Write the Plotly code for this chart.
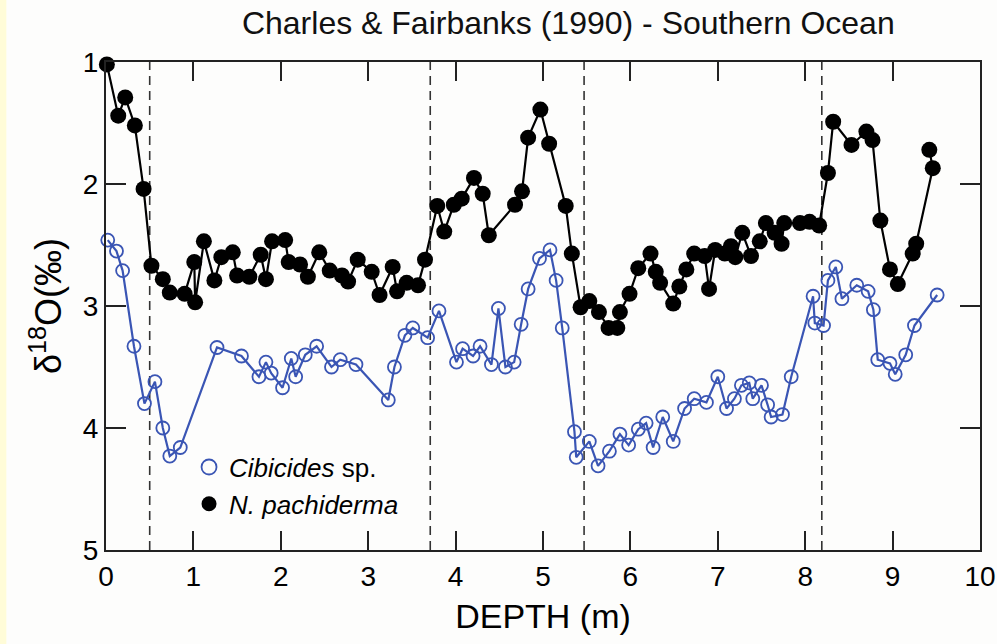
import plotly.graph_objects as go

# N. pachyderma (black, filled)
pach_depth = [0.01, 0.14, 0.22, 0.33, 0.43, 0.52, 0.65, 0.73, 0.90, 1.01, 1.02, 1.12, 1.24, 1.32,
              1.45, 1.50, 1.64, 1.77, 1.83, 1.90, 2.05, 2.09, 2.22, 2.31, 2.44, 2.56, 2.70, 2.77,
              2.88, 3.04, 3.13, 3.28, 3.33, 3.44, 3.57, 3.65, 3.79, 3.87, 3.98, 4.07, 4.21, 4.31,
              4.38, 4.68, 4.76, 4.83, 4.97, 5.07, 5.26, 5.33, 5.43, 5.53, 5.64, 5.75, 5.85, 5.88,
              5.99, 6.09, 6.23, 6.29, 6.34, 6.49, 6.56, 6.64, 6.73, 6.85, 6.90, 6.97, 7.08, 7.15,
              7.20, 7.28, 7.38, 7.48, 7.55, 7.65, 7.73, 7.76, 7.94, 8.05, 8.16, 8.26, 8.32, 8.53,
              8.70, 8.77, 8.86, 8.97, 9.06, 9.23, 9.27, 9.46, 9.42]
pach_d18o = [1.02, 1.44, 1.29, 1.52, 2.04, 2.67, 2.78, 2.89, 2.90, 2.64, 2.97, 2.47, 2.79, 2.60,
             2.56, 2.75, 2.76, 2.58, 2.78, 2.47, 2.46, 2.64, 2.66, 2.76, 2.56, 2.71, 2.75, 2.80,
             2.62, 2.72, 2.91, 2.68, 2.88, 2.81, 2.83, 2.62, 2.18, 2.39, 2.17, 2.12, 1.95, 2.08,
             2.42, 2.17, 2.06, 1.62, 1.39, 1.67, 2.18, 2.57, 3.01, 2.96, 3.05, 3.18, 3.18, 3.05,
             2.90, 2.69, 2.57, 2.72, 2.81, 2.98, 2.84, 2.70, 2.57, 2.59, 2.86, 2.54, 2.57, 2.51,
             2.60, 2.40, 2.59, 2.47, 2.32, 2.40, 2.49, 2.32, 2.32, 2.31, 2.34, 1.91, 1.49, 1.68,
             1.57, 1.64, 2.30, 2.70, 2.82, 2.57, 2.49, 1.87, 1.72]

# Cibicides sp. (blue, open)
cib_depth = [0.02, 0.12, 0.19, 0.32, 0.44, 0.56, 0.65, 0.73, 0.85, 1.27, 1.55, 1.75, 1.83, 1.89,
             2.02, 2.12, 2.17, 2.28, 2.41, 2.58, 2.68, 2.86, 3.23, 3.30, 3.42, 3.51, 3.68, 3.81,
             4.01, 4.08, 4.20, 4.28, 4.41, 4.49, 4.57, 4.67, 4.75, 4.83, 4.96, 5.08, 5.15, 5.22,
             5.36, 5.38, 5.53, 5.63, 5.76, 5.88, 5.98, 6.09, 6.18, 6.26, 6.37, 6.49, 6.62, 6.73,
             6.87, 7.00, 7.10, 7.19, 7.27, 7.36, 7.40, 7.50, 7.57, 7.61, 7.74, 7.84, 8.09, 8.11,
             8.21, 8.26, 8.35, 8.42, 8.59, 8.72, 8.78, 8.83, 8.97, 9.03, 9.15, 9.25, 9.51]
cib_d18o = [2.46, 2.55, 2.71, 3.33, 3.80, 3.62, 4.00, 4.23, 4.16, 3.34, 3.41, 3.58, 3.46, 3.55,
            3.67, 3.43, 3.58, 3.40, 3.33, 3.50, 3.44, 3.48, 3.77, 3.50, 3.24, 3.18, 3.26, 3.04,
            3.46, 3.35, 3.41, 3.33, 3.48, 3.02, 3.50, 3.46, 3.15, 2.86, 2.61, 2.54, 2.79, 3.18,
            4.03, 4.24, 4.11, 4.31, 4.19, 4.05, 4.14, 4.01, 3.96, 4.16, 3.91, 4.11, 3.84, 3.76,
            3.79, 3.58, 3.84, 3.76, 3.65, 3.63, 3.76, 3.65, 3.81, 3.91, 3.89, 3.58, 2.92, 3.14,
            3.16, 2.79, 2.68, 2.94, 2.83, 2.88, 3.03, 3.44, 3.47, 3.56, 3.40, 3.16, 2.91]

boundaries = [0.50, 3.71, 5.47, 8.19]
x_ticks = [0, 1, 2, 3, 4, 5, 6, 7, 8, 9, 10]
y_ticks = [1, 2, 3, 4, 5]

BLUE = "#3a55b4"
FONT = "Liberation Sans, Arial, sans-serif"

fig = go.Figure()

fig.add_trace(go.Scatter(
    x=cib_depth, y=cib_d18o, mode="lines+markers", showlegend=False,
    line=dict(color=BLUE, width=2.2),
    marker=dict(symbol="circle-open", size=13, color=BLUE, line=dict(width=1.8, color=BLUE)),
    cliponaxis=False,
))
fig.add_trace(go.Scatter(
    x=pach_depth, y=pach_d18o, mode="lines+markers", showlegend=False,
    line=dict(color="black", width=2.2),
    marker=dict(symbol="circle", size=16, color="black"),
    cliponaxis=False,
))

# legend-only entries (markers without lines)
fig.add_trace(go.Scatter(
    x=[None], y=[None], mode="markers", name="<i>Cibicides</i> sp.",
    marker=dict(symbol="circle-open", size=15, color=BLUE, line=dict(width=1.8, color=BLUE)),
))
fig.add_trace(go.Scatter(
    x=[None], y=[None], mode="markers", name="<i>N. pachiderma</i>",
    marker=dict(symbol="circle", size=15, color="black"),
))

for b in boundaries:
    fig.add_shape(type="line", x0=b, x1=b, xref="x", y0=0, y1=1, yref="paper",
                  line=dict(color="#333333", width=1.6, dash="9px,6px"), layer="below")

# yellow strip at the left edge
fig.add_shape(type="rect", xref="paper", yref="paper", x0=-0.122, x1=-0.114, y0=-0.2, y1=1.2,
              fillcolor="#fffcd8", line=dict(width=0), layer="below")

fig.update_layout(
    width=997, height=644,
    margin=dict(l=106, r=17, t=62, b=94, autoexpand=False),
    paper_bgcolor="#fdfdfc", plot_bgcolor="#fdfdfc",
    font=dict(family=FONT, color="black"),
    title=dict(text="Charles & Fairbanks (1990) - Southern Ocean", x=0.57, xanchor="center",
               y=0.965, yanchor="middle", font=dict(size=32, color="#111111")),
    legend=dict(x=0.095, y=0.218, xanchor="left", yanchor="top",
                bgcolor="rgba(0,0,0,0)", font=dict(size=26), itemwidth=30,
                tracegroupgap=0),
)

fig.update_xaxes(
    range=[0, 10], tickvals=x_ticks, ticktext=[str(v) for v in x_ticks],
    ticks="inside", ticklen=19, tickwidth=1.8, tickcolor="#222222",
    showline=True, linewidth=2, linecolor="#222222", mirror="ticks",
    showgrid=False, zeroline=False, automargin=False,
    tickfont=dict(size=28), title=dict(text="DEPTH (m)", font=dict(size=34), standoff=14),
)
fig.update_yaxes(
    range=[5, 1], tickvals=y_ticks, ticktext=[str(v) for v in y_ticks],
    ticks="inside", ticklen=20, tickwidth=1.8, tickcolor="#222222",
    showline=True, linewidth=2, linecolor="#222222", mirror="ticks",
    showgrid=False, zeroline=False, automargin=False,
    tickfont=dict(size=28), title=dict(text="δ<sup>18</sup>O(‰)", font=dict(size=36), standoff=10),
)

fig.write_html("out.html")
